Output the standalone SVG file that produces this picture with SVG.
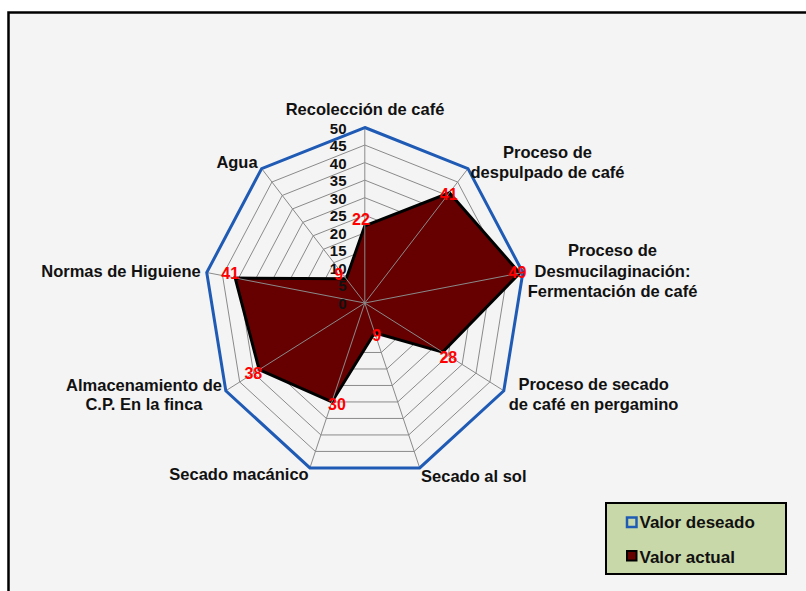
<svg xmlns="http://www.w3.org/2000/svg" width="806" height="591" viewBox="0 0 806 591">
<style>
.bg{fill:#f4f4f4;stroke:#000;stroke-width:2.5}
.ring{fill:none;stroke:#8a8a8a;stroke-width:1}
.spoke{stroke:#8a8a8a;stroke-width:1}
.data{fill:#660000;stroke:#000;stroke-width:3;stroke-linejoin:miter}
.target{fill:none;stroke:#1f5bb5;stroke-width:3;stroke-linejoin:miter}
.lbl{font-family:"Liberation Sans",Arial,sans-serif;font-weight:bold;font-size:16.5px;fill:#111;text-anchor:middle}
.tick{font-family:"Liberation Sans",Arial,sans-serif;font-weight:bold;font-size:15px;fill:#111;text-anchor:end}
.val{font-family:"Liberation Sans",Arial,sans-serif;font-weight:bold;font-size:16px;fill:#ff0000;text-anchor:middle}
.leg{font-family:"Liberation Sans",Arial,sans-serif;font-weight:bold;font-size:17px;fill:#111}
</style>
<rect x="0" y="0" width="806" height="591" fill="#ffffff"/>
<rect class="bg" x="8.5" y="12.5" width="820" height="600"/>

<g id="grid" transform="translate(364.8,303)">
<polygon class="ring" points="0,-17.55 10.32,-13.44 15.81,-3.05 13.9,8.78 5.49,16.49 -5.49,16.49 -13.9,8.78 -15.81,-3.05 -10.32,-13.44"/>
<polygon class="ring" points="0,-35.1 20.63,-26.89 31.61,-6.09 27.8,17.55 10.98,32.98 -10.98,32.98 -27.8,17.55 -31.61,-6.09 -20.63,-26.89"/>
<polygon class="ring" points="0,-52.65 30.95,-40.33 47.42,-9.14 41.7,26.33 16.47,49.48 -16.47,49.48 -41.7,26.33 -47.42,-9.14 -30.95,-40.33"/>
<polygon class="ring" points="0,-70.2 41.27,-53.77 63.22,-12.19 55.6,35.1 21.96,65.97 -21.96,65.97 -55.6,35.1 -63.22,-12.19 -41.27,-53.77"/>
<polygon class="ring" points="0,-87.75 51.59,-67.22 79.03,-15.24 69.5,43.88 27.45,82.46 -27.45,82.46 -69.5,43.88 -79.03,-15.24 -51.59,-67.22"/>
<polygon class="ring" points="0,-105.3 61.9,-80.66 94.84,-18.28 83.4,52.65 32.93,98.95 -32.93,98.95 -83.4,52.65 -94.84,-18.28 -61.9,-80.66"/>
<polygon class="ring" points="0,-122.85 72.22,-94.1 110.64,-21.33 97.3,61.43 38.42,115.44 -38.42,115.44 -97.3,61.43 -110.64,-21.33 -72.22,-94.1"/>
<polygon class="ring" points="0,-140.4 82.54,-107.54 126.45,-24.38 111.2,70.2 43.91,131.94 -43.91,131.94 -111.2,70.2 -126.45,-24.38 -82.54,-107.54"/>
<polygon class="ring" points="0,-157.95 92.85,-120.99 142.25,-27.42 125.1,78.98 49.4,148.43 -49.4,148.43 -125.1,78.98 -142.25,-27.42 -92.85,-120.99"/>
<polygon class="ring" points="0,-175.5 103.17,-134.43 158.06,-30.47 139,87.75 54.89,164.92 -54.89,164.92 -139,87.75 -158.06,-30.47 -103.17,-134.43"/>
</g>

<g id="serie-valor-actual" transform="translate(364.8,303)">
<polygon class="data" points="0,-77.22 84.6,-110.23 154.9,-29.86 77.84,49.14 9.88,29.69 -32.93,98.95 -105.64,66.69 -129.61,-24.99 -18.57,-24.2"/>
</g>

<g id="connectors" transform="translate(364.8,303)">
<line class="spoke" x1="0" y1="0" x2="0" y2="-175.5"/>
<line class="spoke" x1="0" y1="0" x2="103.17" y2="-134.43"/>
<line class="spoke" x1="0" y1="0" x2="158.06" y2="-30.47"/>
<line class="spoke" x1="0" y1="0" x2="139" y2="87.75"/>
<line class="spoke" x1="0" y1="0" x2="54.89" y2="164.92"/>
<line class="spoke" x1="0" y1="0" x2="-54.89" y2="164.92"/>
<line class="spoke" x1="0" y1="0" x2="-139" y2="87.75"/>
<line class="spoke" x1="0" y1="0" x2="-158.06" y2="-30.47"/>
<line class="spoke" x1="0" y1="0" x2="-103.17" y2="-134.43"/>
</g>

<g id="serie-valor-deseado" transform="translate(364.8,303)">
<polygon class="target" points="0,-175.5 103.17,-134.43 158.06,-30.47 139,87.75 54.89,164.92 -54.89,164.92 -139,87.75 -158.06,-30.47 -103.17,-134.43"/>
</g>

<g id="ticks">
<text class="tick" x="346.5" y="133.5">50</text>
<text class="tick" x="346.5" y="151">45</text>
<text class="tick" x="346.5" y="168.6">40</text>
<text class="tick" x="346.5" y="186.1">35</text>
<text class="tick" x="346.5" y="203.7">30</text>
<text class="tick" x="346.5" y="221.2">25</text>
<text class="tick" x="346.5" y="238.8">20</text>
<text class="tick" x="346.5" y="256.3">15</text>
<text class="tick" x="346.5" y="273.9">10</text>
<text class="tick" x="346.5" y="291.4">5</text>
<text class="tick" x="346.5" y="309">0</text>
</g>

<g id="node-recoleccion"><text class="lbl" x="365" y="115">Recolección de café</text><text class="val" x="361" y="225">22</text></g>
<g id="node-despulpado"><text class="lbl" x="547.5" y="158.3">Proceso de</text><text class="lbl" x="547.5" y="178.3">despulpado de café</text><text class="val" x="448.7" y="200">41</text></g>
<g id="node-desmucilaginacion"><text class="lbl" x="612.5" y="256">Proceso de</text><text class="lbl" x="612.5" y="276.7">Desmucilaginación:</text><text class="lbl" x="612.5" y="296.7">Fermentación de café</text><text class="val" x="517.5" y="277.5">49</text></g>
<g id="node-secado-pergamino"><text class="lbl" x="593.6" y="390">Proceso de secado</text><text class="lbl" x="593.6" y="410">de café en pergamino</text><text class="val" x="448.3" y="362.5">28</text></g>
<g id="node-secado-sol"><text class="lbl" x="473.8" y="481.7">Secado al sol</text><text class="val" x="376.7" y="340.5">9</text></g>
<g id="node-secado-mecanico"><text class="lbl" x="239" y="480">Secado macánico</text><text class="val" x="337" y="409.5">30</text></g>
<g id="node-almacenamiento"><text class="lbl" x="144" y="390.7">Almacenamiento de</text><text class="lbl" x="144" y="410">C.P. En la finca</text><text class="val" x="253.3" y="378.5">38</text></g>
<g id="node-normas"><text class="lbl" x="121" y="277.3">Normas de Higuiene</text><text class="val" x="230.2" y="279.3">41</text></g>
<g id="node-agua"><text class="lbl" x="237" y="168.3">Agua</text><text class="val" x="338.8" y="280">9</text></g>

<g id="legend">
<rect x="606" y="503" width="180" height="71" fill="#c9d8a8" stroke="#000" stroke-width="2"/>
<rect x="627" y="517.5" width="9.5" height="9.5" fill="none" stroke="#1f5bb5" stroke-width="2.5"/>
<text class="leg" x="639.5" y="528">Valor deseado</text>
<rect x="627" y="551" width="9.5" height="9.5" fill="#660000" stroke="#000" stroke-width="2"/>
<text class="leg" x="639.5" y="562.5">Valor actual</text>
</g>
</svg>
